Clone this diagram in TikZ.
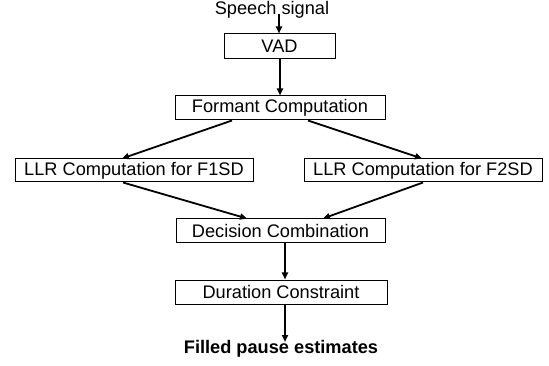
\documentclass[tikz,border=0pt]{standalone}
\usepackage{fontspec}
\setmainfont{Liberation Sans}
\usetikzlibrary{arrows.meta}
\begin{document}
\begin{tikzpicture}[x=1pt,y=-1pt,
  box/.style={draw, line width=1pt, inner sep=0pt, minimum height=24pt, font=\fontsize{18.2}{20}\selectfont},
  conn/.style={line width=1.8pt, -{Triangle[length=7pt,width=6pt]}},
  lbl/.style={inner sep=0pt, anchor=base, font=\fontsize{18.2}{20}\selectfont}]
\useasboundingbox (0,0) rectangle (549,366);
\node[lbl] (speech) at (272,15) {Speech signal};
\node[box, minimum width=111pt, minimum height=25pt] (vad) at (279.5,46.5) {VAD};
\node[box, minimum width=210pt] (formant) at (280,108) {Formant Computation};
\node[box, minimum width=238pt, minimum height=23pt] (f1) at (134,170.5) {LLR Computation for F1SD};
\node[box, minimum width=238pt, minimum height=23pt] (f2) at (423,170.5) {LLR Computation for F2SD};
\node[box, minimum width=209pt] (dec) at (280.5,231) {Decision Combination};
\node[box, minimum width=212pt] (dur) at (281,292) {Duration Constraint};
\node[lbl, font=\fontsize{18.2}{20}\selectfont\bfseries] (out) at (281,353) {Filled pause estimates};
\draw[conn] ([xshift=7pt,yshift=1pt]speech.base) -- ([xshift=-0.5pt]vad.north);
\draw[conn] ([xshift=0.5pt]vad.south) -- (formant.north);
\draw[conn] ([xshift=-48pt]formant.south) -- ([xshift=-12pt]f1.north);
\draw[conn] ([xshift=28pt]formant.south) -- ([xshift=-1pt]f2.north);
\draw[conn] ([xshift=-11pt]f1.south) -- ([xshift=-33.5pt]dec.north);
\draw[conn] (f2.south) -- ([xshift=42.5pt]dec.north);
\draw[conn] ([xshift=4.5pt]dec.south) -- ([xshift=4pt]dur.north);
\draw[conn] ([xshift=4pt]dur.south) -- ([xshift=4pt,yshift=11pt]out.base);
\end{tikzpicture}
\end{document}
